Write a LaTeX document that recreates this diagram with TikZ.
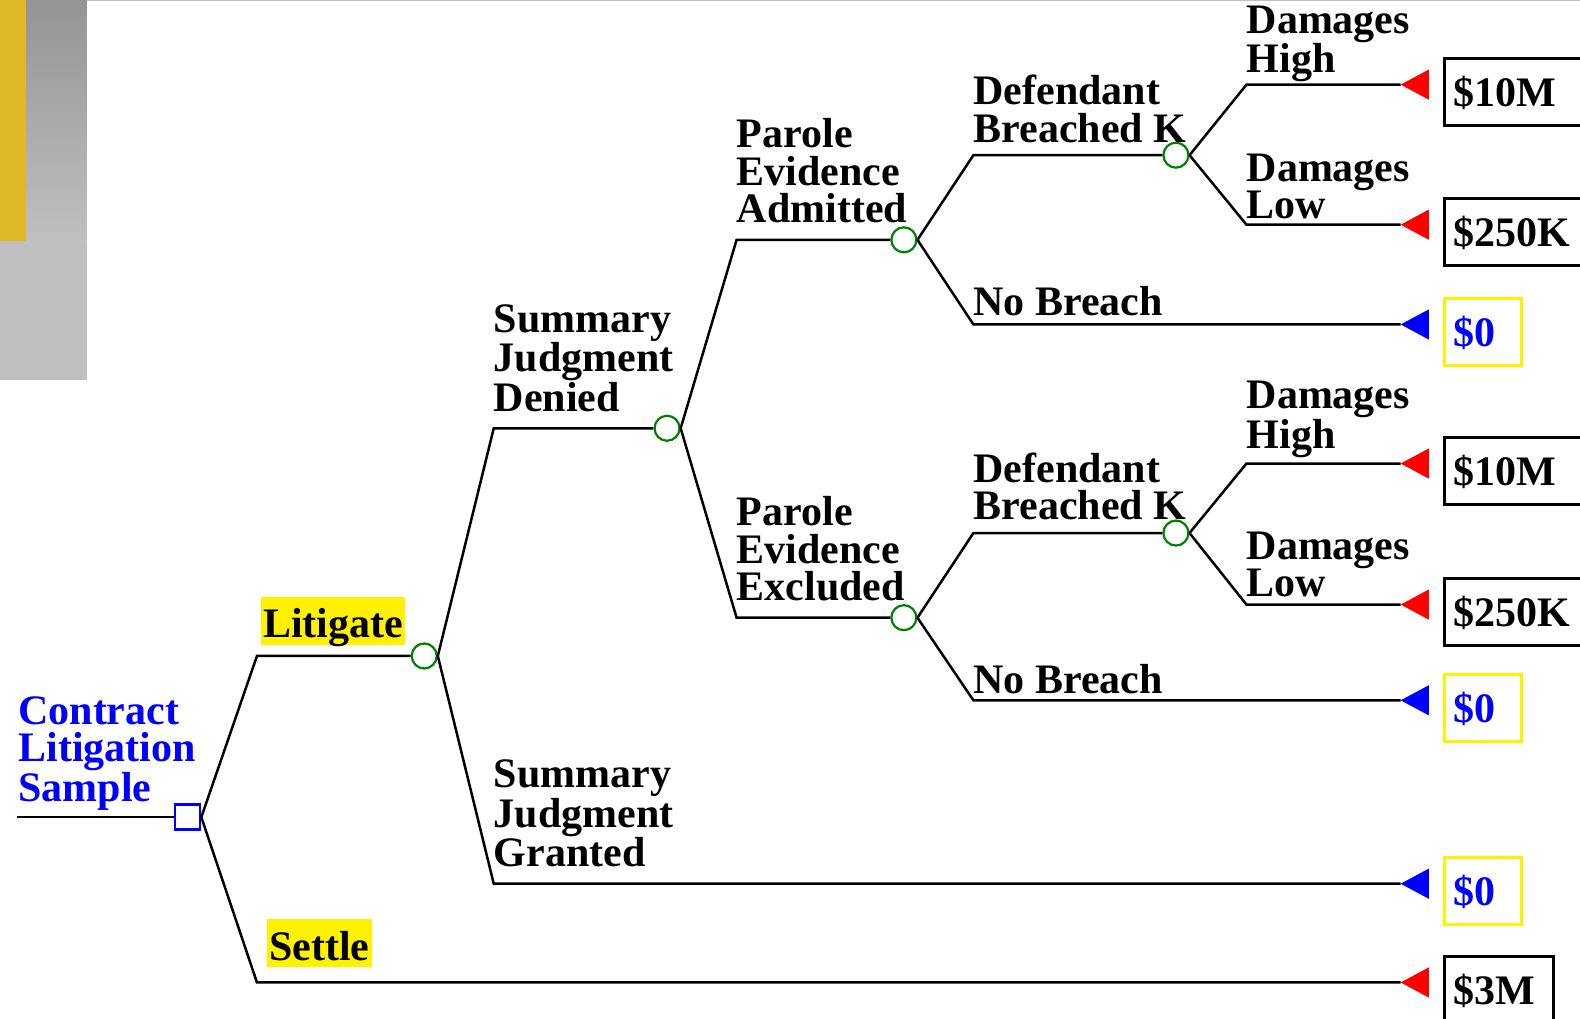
\documentclass[tikz,border=0pt]{standalone}
\usepackage{fontspec}
\setmainfont{Liberation Serif}
\definecolor{goldbar}{RGB}{221,185,40}
\definecolor{greybar}{RGB}{192,192,192}
\definecolor{greytop}{RGB}{148,148,148}
\definecolor{chancegreen}{RGB}{0,128,0}
\tikzstyle{branch}=[line width=2.5pt,black]
\tikzstyle{chance}=[circle,draw=chancegreen,line width=2.2pt,minimum size=25pt,inner sep=0]
\tikzstyle{decision}=[rectangle,draw=blue,line width=2.8pt,minimum size=25pt,inner sep=0]
\tikzstyle{lbl}=[font=\fontsize{42}{37.5}\selectfont\bfseries,align=left,inner sep=0,anchor=base west]
\tikzstyle{hl}=[lbl,fill=yellow,inner xsep=2pt,inner ysep=1pt,text height=40pt,text depth=6pt]
\tikzstyle{valbox}=[lbl,draw,line width=2.8pt,inner xsep=9pt,inner ysep=0,text height=48pt,text depth=19pt]
\tikzstyle{winbox}=[valbox,text width=130pt]
\tikzstyle{nilbox}=[valbox,draw=yellow,text=blue,text width=59pt]
\tikzstyle{setbox}=[valbox,text width=91pt]

\begin{document}
\begin{tikzpicture}[x=1.0077pt,y=-1.0077pt]
\useasboundingbox (0,0) rectangle (1568,1011);
\draw[greybar,line width=1.2pt] (0,0.6)--(1568,0.6);
\shade[top color=greytop,bottom color=greybar] (0,0) rectangle (86,240);
\fill[greybar] (0,240) rectangle (86,377);
\fill[goldbar] (0,0) rectangle (25.5,239);

\coordinate (st) at (17,811);
\node[decision] (dec) at (186,811) {};
\foreach \n/\x/\y in {c1/421/651, c2/662/425, c3/897/238, c4/897/613, c5/1167/154, c6/1167/529}
	\node[chance] (\n) at (\x,\y) {};
\foreach \n/\x/\y in {lit/255/651, set/255/975, sjd/490/425, sjg/490/877, pea/731/238, pee/731/613,
	dbka/966/154, nba/966/322, dbkb/966/529, nbb/966/695,
	dha/1237/84, dla/1237/223, dhb/1237/460, dlb/1237/600}
	\coordinate (\n) at (\x,\y);

\foreach \y/\v/\k/\c in {84/{\$10M}/winbox/red, 223/{\$250K}/winbox/red, 322/{\$0}/nilbox/blue,
	460/{\$10M}/winbox/red, 600/{\$250K}/winbox/red, 695/{\$0}/nilbox/blue,
	877/{\$0}/nilbox/blue, 975/{\$3M}/setbox/red}{
	\coordinate (tip\y) at (1390,\y);
	\fill[\c] (tip\y)--++(28,-15)--++(0,30)--cycle;
	\node[\k] (val\y) at (1432,\y+22) {\v};
}

\draw[branch] (st)--(dec.west);
\foreach \a/\b/\c in {dec/lit/c1, dec/set/tip975, c1/sjd/c2, c1/sjg/tip877, c2/pea/c3, c2/pee/c4,
	c3/dbka/c5, c3/nba/tip322, c4/dbkb/c6, c4/nbb/tip695,
	c5/dha/tip84, c5/dla/tip223, c6/dhb/tip460, c6/dlb/tip600}
	\draw[branch] (\a.east)--(\b)--(\c);

\node[lbl,text=blue] (title) at (18,795) {Contract\\Litigation\\Sample};
\node[hl] (llit) at (259,633) {Litigate};
\node[hl] (lset) at (265,953) {Settle};
\node[lbl] (lsjd) at (490,408) {Summary\\Judgment\\Denied};
\node[lbl] (lsjg) at (490,860) {Summary\\Judgment\\Granted};
\node[lbl] (lpea) at (731,221) {Parole\\Evidence\\Admitted};
\node[lbl] (lpee) at (731,596) {Parole\\Evidence\\Excluded};
\node[lbl] (ldbka) at (966,141) {Defendant\\Breached K};
\node[lbl] (ldbkb) at (966,516) {Defendant\\Breached K};
\node[lbl] (lnba) at (966,313) {No Breach};
\node[lbl] (lnbb) at (966,688) {No Breach};
\node[lbl] (ldha) at (1237,72) {Damages\\High};
\node[lbl] (ldla) at (1237,217) {Damages\\Low};
\node[lbl] (ldhb) at (1237,445) {Damages\\High};
\node[lbl] (ldlb) at (1237,592) {Damages\\Low};
\end{tikzpicture}
\end{document}
